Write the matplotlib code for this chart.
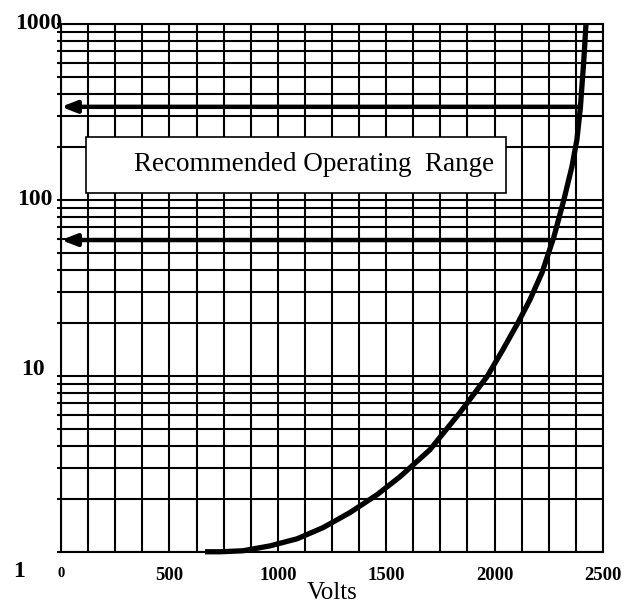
import matplotlib.pyplot as plt
from matplotlib.patches import Rectangle
from matplotlib.ticker import FixedLocator, LogLocator, NullFormatter

# gain curve
volts = [664, 733, 839, 964, 1089, 1208, 1333, 1458, 1564, 1702, 1840, 1965,
         2039, 2108, 2163, 2219, 2274, 2320, 2357, 2380, 2396, 2412, 2422]
gain = [1.0, 1.0, 1.013, 1.08, 1.185, 1.37, 1.67, 2.11, 2.67, 3.80, 6.17, 9.87,
        14.1, 20.0, 27.0, 38.5, 61.6, 100, 154, 219, 333, 624, 1000]

# operating range limits (arrows)
range_hi = 337
range_lo = 59
range_hi_v = 2394
range_lo_v = 2250

xticks = [0, 500, 1000, 1500, 2000, 2500]
xlabels = ['0', '500', '1000', '1500', '2000', '2500']

plt.rcParams['font.family'] = ['Liberation Serif', 'DejaVu Serif']

fig = plt.figure(figsize=(6.3, 6.07), dpi=100)
ax = fig.add_axes([0.097, 0.091, 0.860, 0.870])
ax.set_yscale('log')
ax.set_xlim(0, 2500)
ax.set_ylim(1, 1000)

# grid: every 125 V, log minors
ax.xaxis.set_major_locator(FixedLocator(xticks))
ax.xaxis.set_minor_locator(FixedLocator([i * 125 for i in range(21)]))
ax.yaxis.set_major_locator(FixedLocator([1, 10, 100, 1000]))
ax.yaxis.set_minor_locator(LogLocator(base=10, subs=range(2, 10)))
ax.yaxis.set_major_formatter(NullFormatter())
ax.yaxis.set_minor_formatter(NullFormatter())
ax.grid(True, which='both', color='black', lw=1.5)
ax.set_axisbelow(True)
for s in ax.spines.values():
    s.set_linewidth(1.5)

ax.set_xticklabels(xlabels, fontsize=13.5, fontweight='bold')
ax.get_xticklabels()[0].set_fontsize(10.5)
ax.tick_params(axis='x', which='both', length=0, pad=11)
ax.tick_params(axis='y', which='both', length=3, width=1.5)

# y labels sit left-aligned, a bit uneven as in the scan
ytr = ax.get_yaxis_transform()
ax.text(-0.085, 1000, '1000', transform=ytr, fontsize=17, fontweight='bold',
        ha='left', va='center')
ax.text(-0.081, 100, '100', transform=ytr, fontsize=17, fontweight='bold',
        ha='left', va='center')
ax.text(-0.074, 10.8, '10', transform=ytr, fontsize=17, fontweight='bold',
        ha='left', va='center')
ax.text(-0.088, -0.038, '1', transform=ax.transAxes, fontsize=17,
        fontweight='bold', ha='left', va='center')
ax.text(0.5, -0.078, 'Volts', transform=ax.transAxes, fontsize=18,
        ha='center', va='center')

ax.plot(volts, gain, color='black', lw=3.8, solid_joinstyle='round',
        solid_capstyle='butt', clip_on=False, zorder=4)

for yv, xv in [(range_hi, range_hi_v), (range_lo, range_lo_v)]:
    ax.annotate('', xy=(0, yv), xytext=(xv, yv),
                arrowprops=dict(arrowstyle='-|>,head_length=0.9,head_width=0.35',
                                lw=3.2, color='black', shrinkA=0, shrinkB=0))

ax.add_patch(Rectangle((115, 109.6), 2053 - 115, 228 - 109.6, fc='white',
                       ec='black', lw=1.2, zorder=3))
ax.text(1165, 158, 'Recommended Operating  Range', fontsize=19.5,
        ha='center', va='center', zorder=5)

fig.savefig('out.png', dpi=100)
